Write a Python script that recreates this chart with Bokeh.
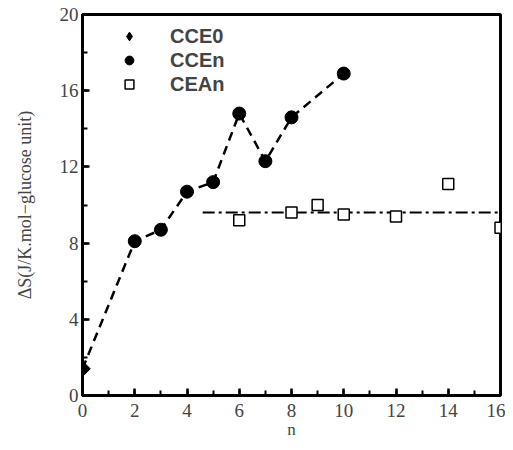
import math
from bokeh.plotting import figure
from bokeh.embed import file_html
from bokeh.resources import INLINE
from bokeh.models import Range1d, Legend, LegendItem, FixedTicker

# Data
cce0_n = [0]
cce0_s = [1.4]
ccen_n = [2, 3, 4, 5, 6, 7, 8, 10]
ccen_s = [8.1, 8.7, 10.7, 11.2, 14.8, 12.3, 14.6, 16.9]
cean_n = [6, 8, 9, 10, 12, 14, 16]
cean_s = [9.2, 9.6, 10.0, 9.5, 9.4, 11.1, 8.8]
fit_n = [4.6, 16]
fit_s = [9.6, 9.6]
x_ticks = [0, 2, 4, 6, 8, 10, 12, 14, 16]
y_ticks = [0, 4, 8, 12, 16, 20]

p = figure(width=505, height=442, output_backend="svg", toolbar_location=None,
           x_range=Range1d(0, 16), y_range=Range1d(0, 20),
           min_border_left=82, min_border_right=5, min_border_top=14, min_border_bottom=47)
p.grid.visible = False
p.background_fill_color = "white"
p.border_fill_color = "white"
p.outline_line_color = "black"
p.outline_line_width = 3

p.line(cce0_n + ccen_n, cce0_s + ccen_s, line_color="black", line_width=2.5, line_dash="9 6")
p.line(fit_n, fit_s, line_color="black", line_width=2, line_dash="12 4 3 4")

r1 = p.scatter(cce0_n, cce0_s, marker="square", angle=math.pi / 4, size=11,
               fill_color="black", line_color="black")
r2 = p.scatter(ccen_n, ccen_s, marker="circle", size=13, fill_color="black", line_color="black")
r3 = p.scatter(cean_n, cean_s, marker="square", size=11, fill_color="white", line_color="black", line_width=1.5)
# legend-only proxy for the diamond symbol (legend ignores marker angle)
r1_leg = p.scatter([float("nan")], [float("nan")], marker="diamond", size=20,
                   fill_color="black", line_color="black")

legend = Legend(items=[LegendItem(label="CCE0", renderers=[r1_leg]),
                       LegendItem(label="CCEn", renderers=[r2]),
                       LegendItem(label="CEAn", renderers=[r3])],
                location=(34, 297), label_text_font="Liberation Sans", label_text_font_style="bold",
                label_text_font_size="20px", border_line_alpha=0, background_fill_alpha=0,
                spacing=0, glyph_width=22, glyph_height=24, label_standoff=30, padding=2)
p.add_layout(legend, "center")

for ax in (p.xaxis[0], p.yaxis[0]):
    ax.axis_line_width = 3
    ax.major_tick_in = 7
    ax.major_tick_out = 0
    ax.minor_tick_in = 5
    ax.minor_tick_out = 0
    ax.major_tick_line_width = 2.5
    ax.minor_tick_line_width = 2
    ax.major_label_text_font = "Liberation Serif"
    ax.major_label_text_font_size = "19px"
    ax.axis_label_text_font = "Liberation Serif"
    ax.axis_label_text_font_style = "normal"
    ax.axis_label_text_font_size = "18px"

p.xaxis[0].ticker = FixedTicker(ticks=x_ticks, minor_ticks=list(range(0, 17)))
p.yaxis[0].ticker = FixedTicker(ticks=y_ticks, minor_ticks=list(range(0, 21, 2)))
p.xaxis[0].axis_label = "n"
p.yaxis[0].axis_label = "ΔS(J/K.mol−glucose unit)"
p.xaxis[0].major_label_standoff = 8
p.xaxis[0].axis_label_standoff = 0
p.xaxis[0].axis_label_text_font_size = "17px"
p.yaxis[0].major_label_standoff = 4
p.yaxis[0].axis_label_standoff = 22

open("out.html", "w").write(file_html(p, INLINE))
